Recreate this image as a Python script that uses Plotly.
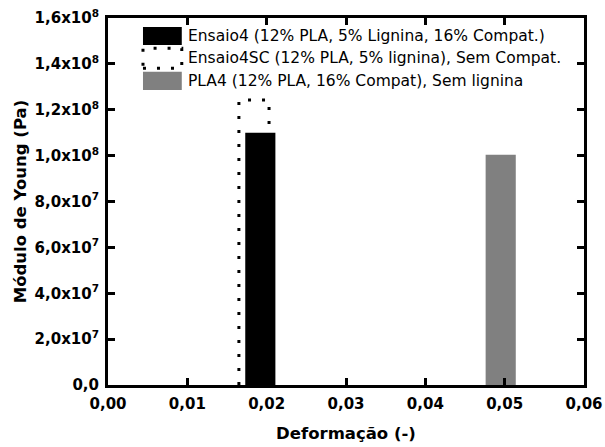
import plotly.graph_objects as go

# ---------------- data ----------------
series_names = [
    "Ensaio4 (12% PLA, 5% Lignina, 16% Compat.)",
    "Ensaio4SC (12% PLA, 5% lignina), Sem Compat.",
    "PLA4 (12% PLA, 16% Compat), Sem lignina",
]
strain = [0.0192, 0.0184, 0.0495]          # Deformação (-)
young_modulus = [1.10e8, 1.242e8, 1.004e8]  # Módulo de Young (Pa)

x_tickvals = [0.00, 0.01, 0.02, 0.03, 0.04, 0.05, 0.06]
x_ticktext = ["0,00", "0,01", "0,02", "0,03", "0,04", "0,05", "0,06"]
y_tickvals = [0, 2e7, 4e7, 6e7, 8e7, 1.0e8, 1.2e8, 1.4e8, 1.6e8]
y_ticktext = ["0,0", "2,0x10<sup>7</sup>", "4,0x10<sup>7</sup>", "6,0x10<sup>7</sup>",
              "8,0x10<sup>7</sup>", "1,0x10<sup>8</sup>", "1,2x10<sup>8</sup>",
              "1,4x10<sup>8</sup>", "1,6x10<sup>8</sup>"]

# ---------------- style ----------------
BAR_W = 0.0038
DOT_DASH = "3px,11px"
FONT = "DejaVu Sans"

fig = go.Figure()

# dotted (outline only) bar: Ensaio4SC
xc, v = strain[1], young_modulus[1]
fig.add_trace(go.Scatter(
    x=[xc - BAR_W / 2, xc - BAR_W / 2, xc + BAR_W / 2, xc + BAR_W / 2],
    y=[0, v, v, 0],
    mode="lines",
    line=dict(color="black", width=3, dash=DOT_DASH),
    name=series_names[1], showlegend=False, hoverinfo="skip",
))

# solid black bar: Ensaio4
fig.add_trace(go.Bar(
    x=[strain[0]], y=[young_modulus[0]], width=[BAR_W],
    marker=dict(color="black", line=dict(width=0)),
    name=series_names[0], showlegend=False,
))

# grey bar: PLA4
fig.add_trace(go.Bar(
    x=[strain[2]], y=[young_modulus[2]], width=[BAR_W],
    marker=dict(color="#808080", line=dict(width=0)),
    name=series_names[2], showlegend=False,
))

# ---------------- manual legend ----------------
sw_x0, sw_x1, txt_x = 0.0735, 0.155, 0.164
rows = [
    dict(y0=0.9264, y1=0.9755, ty=0.951, kind="solid", color="black"),
    dict(y0=0.8629, y1=0.9174, ty=0.891, kind="dot", color="black"),
    dict(y0=0.8038, y1=0.8537, ty=0.8283, kind="solid", color="#808080"),
]
shapes = []
annotations = []
for name, r in zip(series_names, rows):
    if r["kind"] == "solid":
        shapes.append(dict(type="rect", xref="paper", yref="paper",
                           x0=sw_x0, x1=sw_x1, y0=r["y0"], y1=r["y1"],
                           fillcolor=r["color"], line=dict(width=0)))
    else:
        shapes.append(dict(type="rect", xref="paper", yref="paper",
                           x0=sw_x0, x1=sw_x1, y0=r["y0"], y1=r["y1"],
                           fillcolor="rgba(0,0,0,0)",
                           line=dict(color="black", width=3, dash=DOT_DASH)))
    annotations.append(dict(xref="paper", yref="paper", x=txt_x, y=r["ty"],
                            xanchor="left", yanchor="middle", showarrow=False,
                            text=name, font=dict(family=FONT, size=15.5, color="black")))

axis_common = dict(
    showline=True, linecolor="black", linewidth=3, mirror="ticks",
    ticks="inside", ticklen=7, tickwidth=2.5, tickcolor="black",
    showgrid=False, zeroline=False, automargin=False, ticklabelstandoff=3,
    ticklabeloverflow="allow",
    tickfont=dict(family=FONT, size=15, color="black", weight="bold"),
)

fig.update_layout(
    width=605, height=447,
    margin=dict(l=108, r=21, t=18, b=62),
    paper_bgcolor="white", plot_bgcolor="white",
    barmode="overlay",
    shapes=shapes, annotations=annotations,
    xaxis=dict(range=[0, 0.06], tickvals=x_tickvals, ticktext=x_ticktext,
               title=dict(text="Deformação (-)", standoff=16,
                          font=dict(family=FONT, size=16.5, color="black", weight="bold")),
               **axis_common),
    yaxis=dict(range=[0, 1.6e8], tickvals=y_tickvals, ticktext=y_ticktext,
               title=dict(text="Módulo de Young (Pa)", standoff=4,
                          font=dict(family=FONT, size=16.5, color="black", weight="bold")),
               **axis_common),
    showlegend=False,
)

# remove the default 8px page margin so the figure fills the window exactly
fig.write_html("out.html", config={"displayModeBar": False},
               post_script="document.body.style.margin='0px';")
